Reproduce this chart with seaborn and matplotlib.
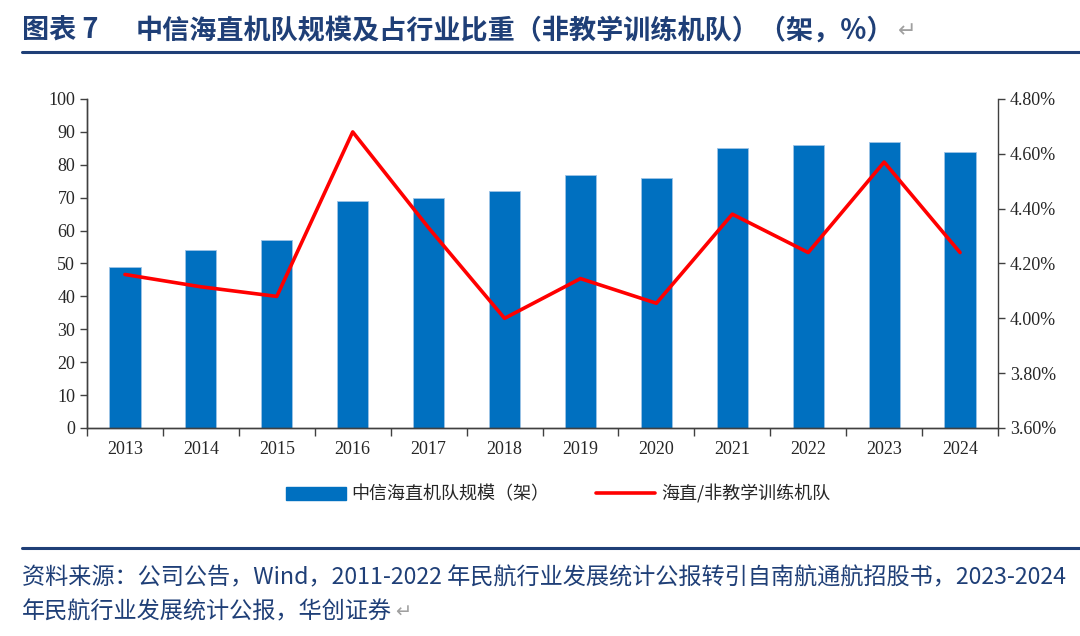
import numpy as np
import pandas as pd
import matplotlib
matplotlib.use('Agg')
import matplotlib.pyplot as plt
import seaborn as sns
from matplotlib.ticker import FixedLocator, FuncFormatter
from matplotlib.lines import Line2D
from matplotlib.patches import Patch

# Daten
years = ['2013', '2014', '2015', '2016', '2017', '2018', '2019', '2020', '2021', '2022', '2023', '2024']
fleet = [49, 54, 57, 69, 70, 72, 77, 76, 85, 86, 87, 84]
share = [4.16, 4.115, 4.08, 4.68, 4.33, 4.00, 4.145, 4.055, 4.38, 4.24, 4.57, 4.24]

BAR_LABEL = '中信海直机队规模（架）'
LINE_LABEL = '海直/非教学训练机队'
TITLE_NO = '图表 7'
TITLE = '中信海直机队规模及占行业比重（非教学训练机队）（架，%）'
SOURCE_1 = '资料来源：公司公告，Wind，2011-2022 年民航行业发展统计公报转引自南航通航招股书，2023-2024'
SOURCE_2 = '年民航行业发展统计公报，华创证券'

sns.set_theme(style='white')
plt.rcParams['font.family'] = ['Liberation Serif', 'Noto Sans CJK SC', 'DejaVu Sans']
cjk = ['Noto Sans CJK SC', 'DejaVu Sans']
navy = '#1F3F77'

df = pd.DataFrame({'year': years, 'fleet': fleet, 'share': share})

fig = plt.figure(figsize=(10.8, 6.36), dpi=100)
ax = fig.add_axes([87 / 1080, 1 - 428 / 636, (998 - 87) / 1080, (428 - 99) / 636])

sns.barplot(data=df, x='year', y='fleet', color='#0070C0', width=0.41, saturation=1,
            edgecolor='#9DC3E6', linewidth=0.6, ax=ax)
ax.set_ylim(0, 100)
ax.set_yticks(np.arange(0, 101, 10))
ax.set_xlim(-0.5, len(years) - 0.5)
ax.set_xlabel('')
ax.set_ylabel('')

# Ticks zwischen den Kategorien
ax.xaxis.set_major_locator(FixedLocator(np.arange(-0.5, len(years), 1.0)))
ax.xaxis.set_minor_locator(FixedLocator(np.arange(len(years))))
ax.set_xticklabels([])
ax.set_xticklabels(years, minor=True)
ax.tick_params(axis='x', which='major', direction='out', length=6, width=1, color='#404040', bottom=True)
ax.tick_params(axis='x', which='minor', length=0, pad=9, labelsize=13, labelcolor='#262626')
ax.tick_params(axis='y', direction='out', length=5, width=1, color='#404040', left=True,
               labelsize=13, labelcolor='#262626')

ax2 = ax.twinx()
sns.lineplot(x=np.arange(len(years)), y=df['share'], color='#FF0000', linewidth=2.6, ax=ax2)
ax2.set_ylim(3.6, 4.8)
ax2.set_yticks(np.arange(3.6, 4.81, 0.2))
ax2.yaxis.set_major_formatter(FuncFormatter(lambda v, p: f'{v:.2f}%'))
ax2.set_ylabel('')
ax2.tick_params(axis='y', direction='out', length=5, width=1, color='#404040', right=True,
                labelsize=13, labelcolor='#262626')

for a in (ax, ax2):
    a.spines['top'].set_visible(False)
    for s in ('left', 'right', 'bottom'):
        a.spines[s].set_color('#404040')
        a.spines[s].set_linewidth(1)
ax.spines['right'].set_visible(False)

# Legende
handles = [Patch(facecolor='#0070C0', edgecolor='#0070C0'),
           Line2D([0], [0], color='#FF0000', linewidth=2.6)]
fig.legend(handles, [BAR_LABEL, LINE_LABEL], loc='center', bbox_to_anchor=(558 / 1080, 1 - 494 / 636),
           ncol=2, frameon=False, prop={'family': cjk, 'size': 13}, handlelength=3.3,
           handleheight=0.7, columnspacing=2.6, handletextpad=0.3)

# Titel und Quelle
renderer = fig.canvas.get_renderer()


def add_return_mark(txt, size):
    # Absatzzeichen wie im Word-Dokument
    bb = txt.get_window_extent(renderer=renderer)
    fig.text((bb.x1 + 3) / 1080, txt.get_position()[1], '↵', family=['DejaVu Sans'],
             fontsize=size, color='#A0A0A0', va='center', ha='left')


fig.text(22 / 1080, 1 - 31 / 636, TITLE_NO, family=cjk, fontsize=19.5, fontweight='bold',
         color=navy, va='center', ha='left')
t = fig.text(136 / 1080, 1 - 31 / 636, TITLE, family=cjk, fontsize=19.5, fontweight='bold',
             color=navy, va='center', ha='left')
add_return_mark(t, 16)
fig.add_artist(Line2D([22 / 1080, 1], [1 - 52 / 636] * 2, color=navy, linewidth=2.2))
fig.add_artist(Line2D([22 / 1080, 1], [1 - 548 / 636] * 2, color=navy, linewidth=2.2))
fig.text(22 / 1080, 1 - 578 / 636, SOURCE_1, family=cjk, fontsize=16.7, style='italic',
         color=navy, va='center', ha='left')
s2 = fig.text(22 / 1080, 1 - 612 / 636, SOURCE_2, family=cjk, fontsize=16.7, style='italic',
              color=navy, va='center', ha='left')
add_return_mark(s2, 14)

fig.savefig('out.png', dpi=100)
